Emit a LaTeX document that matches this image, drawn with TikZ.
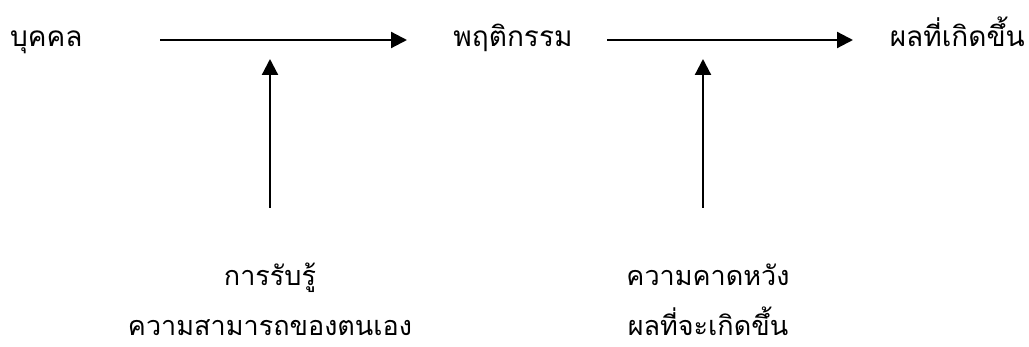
\documentclass[tikz,border=0pt]{standalone}
\usepackage{fontspec}
\newfontfamily\thaifont[Script=Thai]{Loma}
\usetikzlibrary{arrows.meta}
\begin{document}
\begin{tikzpicture}[x=1pt,y=-1pt,
  lbl/.style={font=\thaifont\fontsize{28}{32}\selectfont, inner sep=0pt, anchor=base},
  lblb/.style={font=\thaifont\fontsize{27}{31}\selectfont, inner sep=0pt, anchor=base},
  arr/.style={line width=2.2pt, -{Triangle[length=16pt,width=16pt]}}]
\useasboundingbox (0,0) rectangle (1029,347);
\node[lbl, anchor=base west] (a) at (10,47) {บุคคล};
\node[lbl] (b) at (513,47) {พฤติกรรม};
\node[lbl, anchor=base east] (c) at (1025,47) {ผลที่เกิดขึ้น};
\coordinate (h1s) at (160,40);
\coordinate (h1e) at (407,40);
\coordinate (h2s) at (607,40);
\coordinate (h2e) at (853,40);
\draw[arr] (h1s) -- (h1e);
\draw[arr] (h2s) -- (h2e);
\coordinate (v1s) at (270,208);
\coordinate (v1e) at (270,59);
\coordinate (v2s) at (703,208);
\coordinate (v2e) at (703,59);
\draw[arr] (v1s) -- (v1e);
\draw[arr] (v2s) -- (v2e);
\node[lblb] (d1) at (270,286) {การรับรู้};
\node[lblb] (d2) at (270,336) {ความสามารถของตนเอง};
\node[lblb] (e1) at (708,286) {ความคาดหวัง};
\node[lblb] (e2) at (708,336) {ผลที่จะเกิดขึ้น};
\end{tikzpicture}
\end{document}
